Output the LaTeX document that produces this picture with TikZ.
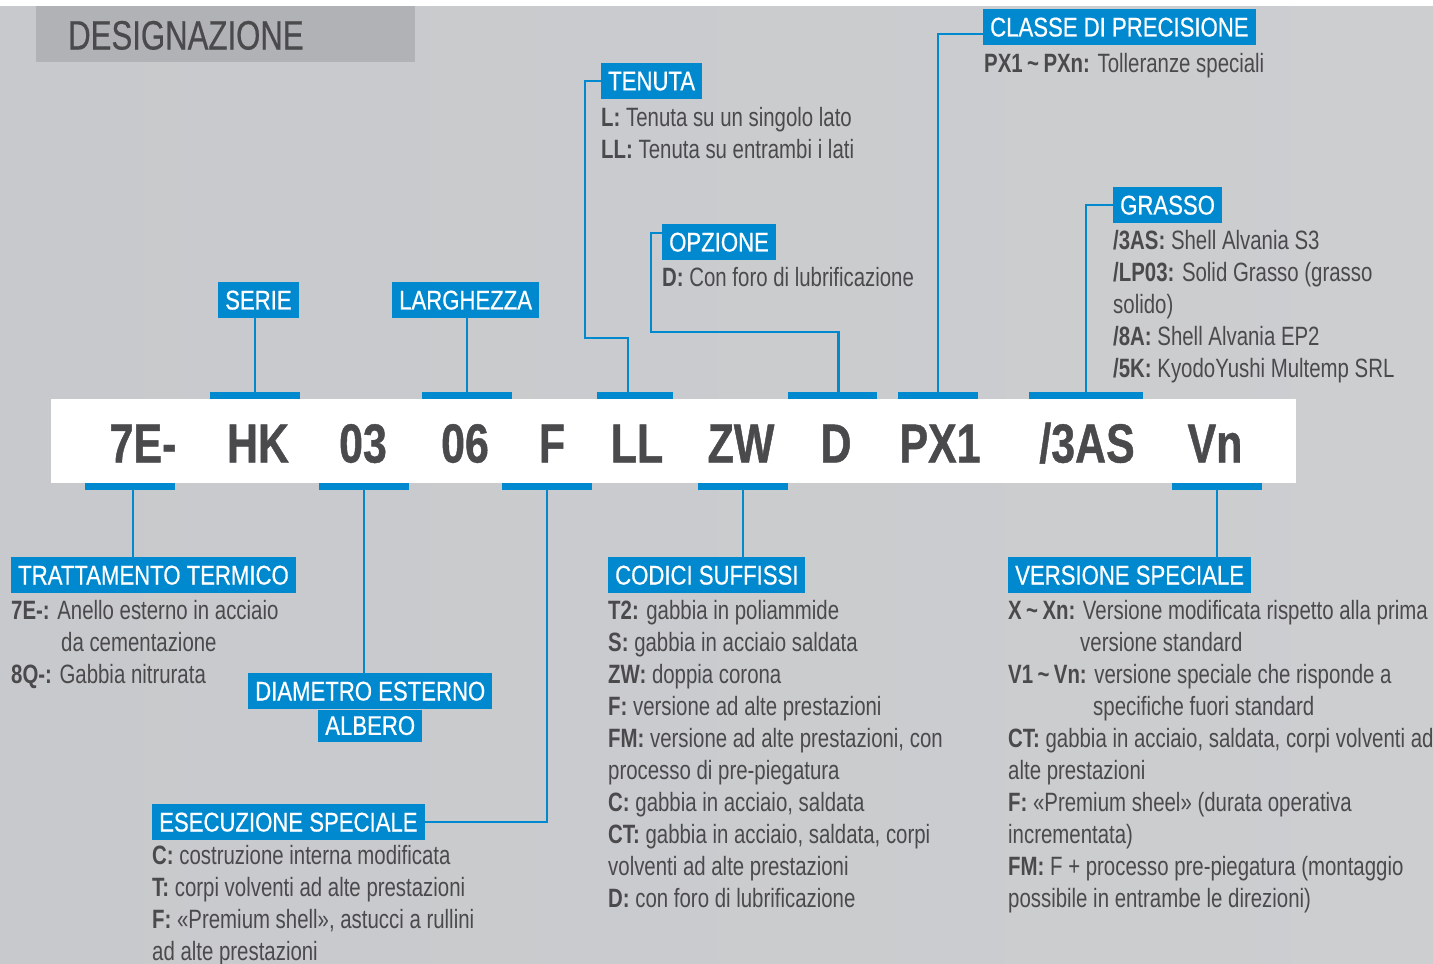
\documentclass[tikz,border=0pt]{standalone}
\usepackage{fontspec}
\setmainfont{Liberation Sans}[FakeStretch=0.77]
\newfontfamily\headfont{Liberation Sans}[FakeStretch=0.82,FakeBold=0.5]
\newfontfamily\titlefont{Liberation Sans}[FakeStretch=0.76,FakeBold=0.5]
\newfontfamily\codefont{Liberation Sans}[FakeStretch=0.78,FakeBold=0.8]
\usetikzlibrary{positioning,calc}
\definecolor{skfblue}{RGB}{0,137,207}
\definecolor{txtgray}{RGB}{74,74,76}
\definecolor{titlegray}{RGB}{177,178,182}
\definecolor{bgleft}{RGB}{200,201,204}
\definecolor{bgmid}{RGB}{223,224,226}
\definecolor{bgright}{RGB}{205,206,208}
\newcommand{\descfont}{\fontsize{26.5}{32}\selectfont}

\begin{document}
\begin{tikzpicture}[x=1pt,y=-1pt,
    head/.style={fill=skfblue,text=white,anchor=north west,inner xsep=7pt,inner ysep=0pt,
      minimum height=36pt,font=\headfont\fontsize{27}{32}\selectfont},
    desc/.style={anchor=north west,inner sep=0pt,align=left,text=txtgray,font=\descfont,yshift=22.4pt},
    code/.style={anchor=base,inner sep=0pt,text=txtgray,font=\codefont\fontsize{55}{60}\selectfont\bfseries},
    bar/.style={fill=skfblue,inner sep=0pt,minimum height=7pt},
    link/.style={draw=skfblue,line width=2.2pt}]
  % Background
  \useasboundingbox (0,0) rectangle (1433,964);
  \fill[white] (0,0) rectangle (1433,964);
  \shade[left color=bgleft,middle color=bgmid,right color=bgright] (0,6) rectangle (1433,964);
  % Title
  \fill[titlegray] (36,6) rectangle (415,62);
  \node[anchor=base west,inner sep=0pt,text=txtgray,font=\titlefont\fontsize{41}{48}\selectfont] (title) at (68,49.5) {DESIGNAZIONE};
  % Code band
  \fill[white] (51,399) rectangle (1296,483);
  \foreach \x/\t/\n in {143/7E-/c7E, 258/HK/cHK, 363/03/c03, 465/06/c06, 552/F/cF, 637/LL/cLL,
      741/ZW/cZW, 836/D/cD, 940/PX1/cPX, 1087/{/3AS}/cAS, 1215/Vn/cVn}{
    \node[code] (\n) at (\x,462.5) {\t};
  }
  % Bars above and below the band
  \foreach \n/\x/\w/\y in {bHK/255/90/395.5, b06/467/90/395.5, bLL/635/76/395.5, bD/832.5/89/395.5,
      bPX/938/80/395.5, bAS/1086/114/395.5, b7E/130/90/486.5, b03/364/90/486.5, bF/547/90/486.5,
      bZW/743/90/486.5, bVn/1217/90/486.5}{
    \node[bar,minimum width=\w pt] (\n) at (\x,\y) {};
  }
  % Headings
  \node[head] (classe) at (983,9) {CLASSE DI PRECISIONE};
  \node[head] (tenuta) at (601,63) {TENUTA};
  \node[head] (opzione) at (662,224) {OPZIONE};
  \node[head] (grasso) at (1113,187) {GRASSO};
  \node[head] (serie) at (218,282) {SERIE};
  \node[head] (largh) at (392,282) {LARGHEZZA};
  \node[head] (tratt) at (11,557) {TRATTAMENTO TERMICO};
  \node[head] (codici) at (608,557) {CODICI SUFFISSI};
  \node[head] (versione) at (1008,557) {VERSIONE SPECIALE};
  \node[head] (diametro) at (248,673) {DIAMETRO ESTERNO};
  \node[head,anchor=north,minimum height=32pt] (albero) at (diametro.south) {ALBERO};
  \node[head] (esecuz) at (152,804) {ESECUZIONE SPECIALE};
  % Descriptions
  \node[desc] (dclasse) at (984,72) {\strut\textbf{PX1\,\textasciitilde\,PXn:} Tolleranze speciali};
  \node[desc] (dtenuta) at (601,126) {\strut\textbf{L:} Tenuta su un singolo lato\\
    \textbf{LL:} Tenuta su entrambi i lati};
  \node[desc] (dopzione) at (662,286) {\strut\textbf{D:} Con foro di lubrificazione};
  \node[desc] (dgrasso) at (1113,249) {\strut\textbf{/3AS:} Shell Alvania S3\\
    \textbf{/LP03:} Solid Grasso (grasso\\
    solido)\\
    \textbf{/8A:} Shell Alvania EP2\\
    \textbf{/5K:} KyodoYushi Multemp SRL};
  \node[desc] (dtratt) at (11,619) {\strut\textbf{7E-:} Anello esterno in acciaio\\
    \hspace*{50pt}da cementazione\\
    \textbf{8Q-:} Gabbia nitrurata};
  \node[desc] (dcodici) at (608,619) {\strut\textbf{T2:} gabbia in poliammide\\
    \textbf{S:} gabbia in acciaio saldata\\
    \textbf{ZW:} doppia corona\\
    \textbf{F:} versione ad alte prestazioni\\
    \textbf{FM:} versione ad alte prestazioni, con\\
    processo di pre-piegatura\\
    \textbf{C:} gabbia in acciaio, saldata\\
    \textbf{CT:} gabbia in acciaio, saldata, corpi\\
    volventi ad alte prestazioni\\
    \textbf{D:} con foro di lubrificazione};
  \node[desc] (dversione) at (1008,619) {\strut\textbf{X\,\textasciitilde\,Xn:} Versione modificata rispetto alla prima\\
    \hspace*{72pt}versione standard\\
    \textbf{V1\,\textasciitilde\,Vn:} versione speciale che risponde a\\
    \hspace*{85pt}specifiche fuori standard\\
    \textbf{CT:} gabbia in acciaio, saldata, corpi volventi ad\\
    alte prestazioni\\
    \textbf{F:} «Premium sheel» (durata operativa\\
    incrementata)\\
    \textbf{FM:} F + processo pre-piegatura (montaggio\\
    possibile in entrambe le direzioni)};
  \node[desc] (desecuz) at (152,864) {\strut\textbf{C:} costruzione interna modificata\\
    \textbf{T:} corpi volventi ad alte prestazioni\\
    \textbf{F:} «Premium shell», astucci a rullini\\
    ad alte prestazioni};
  % Connectors
  \coordinate (kten) at (585,338);
  \coordinate (kopz) at (651,332);
  \draw[link] (bHK.north) -- (bHK.north |- serie.south);
  \draw[link] (b06.north) -- (b06.north |- largh.south);
  \draw[link] (tenuta.west) -| (kten) -| ([xshift=-7pt]bLL.north);
  \draw[link] ([yshift=9pt]opzione.west) -| (kopz) -| ([xshift=6pt]bD.north);
  \draw[link] ([yshift=-7pt]classe.west) -| (bPX.north);
  \draw[link] (grasso.west) -| (bAS.north);
  \draw[link] ([xshift=3pt]b7E.south) -- ([xshift=3pt]b7E.south |- tratt.north);
  \draw[link] (b03.south) -- (b03.south |- diametro.north);
  \draw[link] (esecuz.east) -| (bF.south);
  \draw[link] (bZW.south) -- (bZW.south |- codici.north);
  \draw[link] (bVn.south) -- (bVn.south |- versione.north);
\end{tikzpicture}
\end{document}
